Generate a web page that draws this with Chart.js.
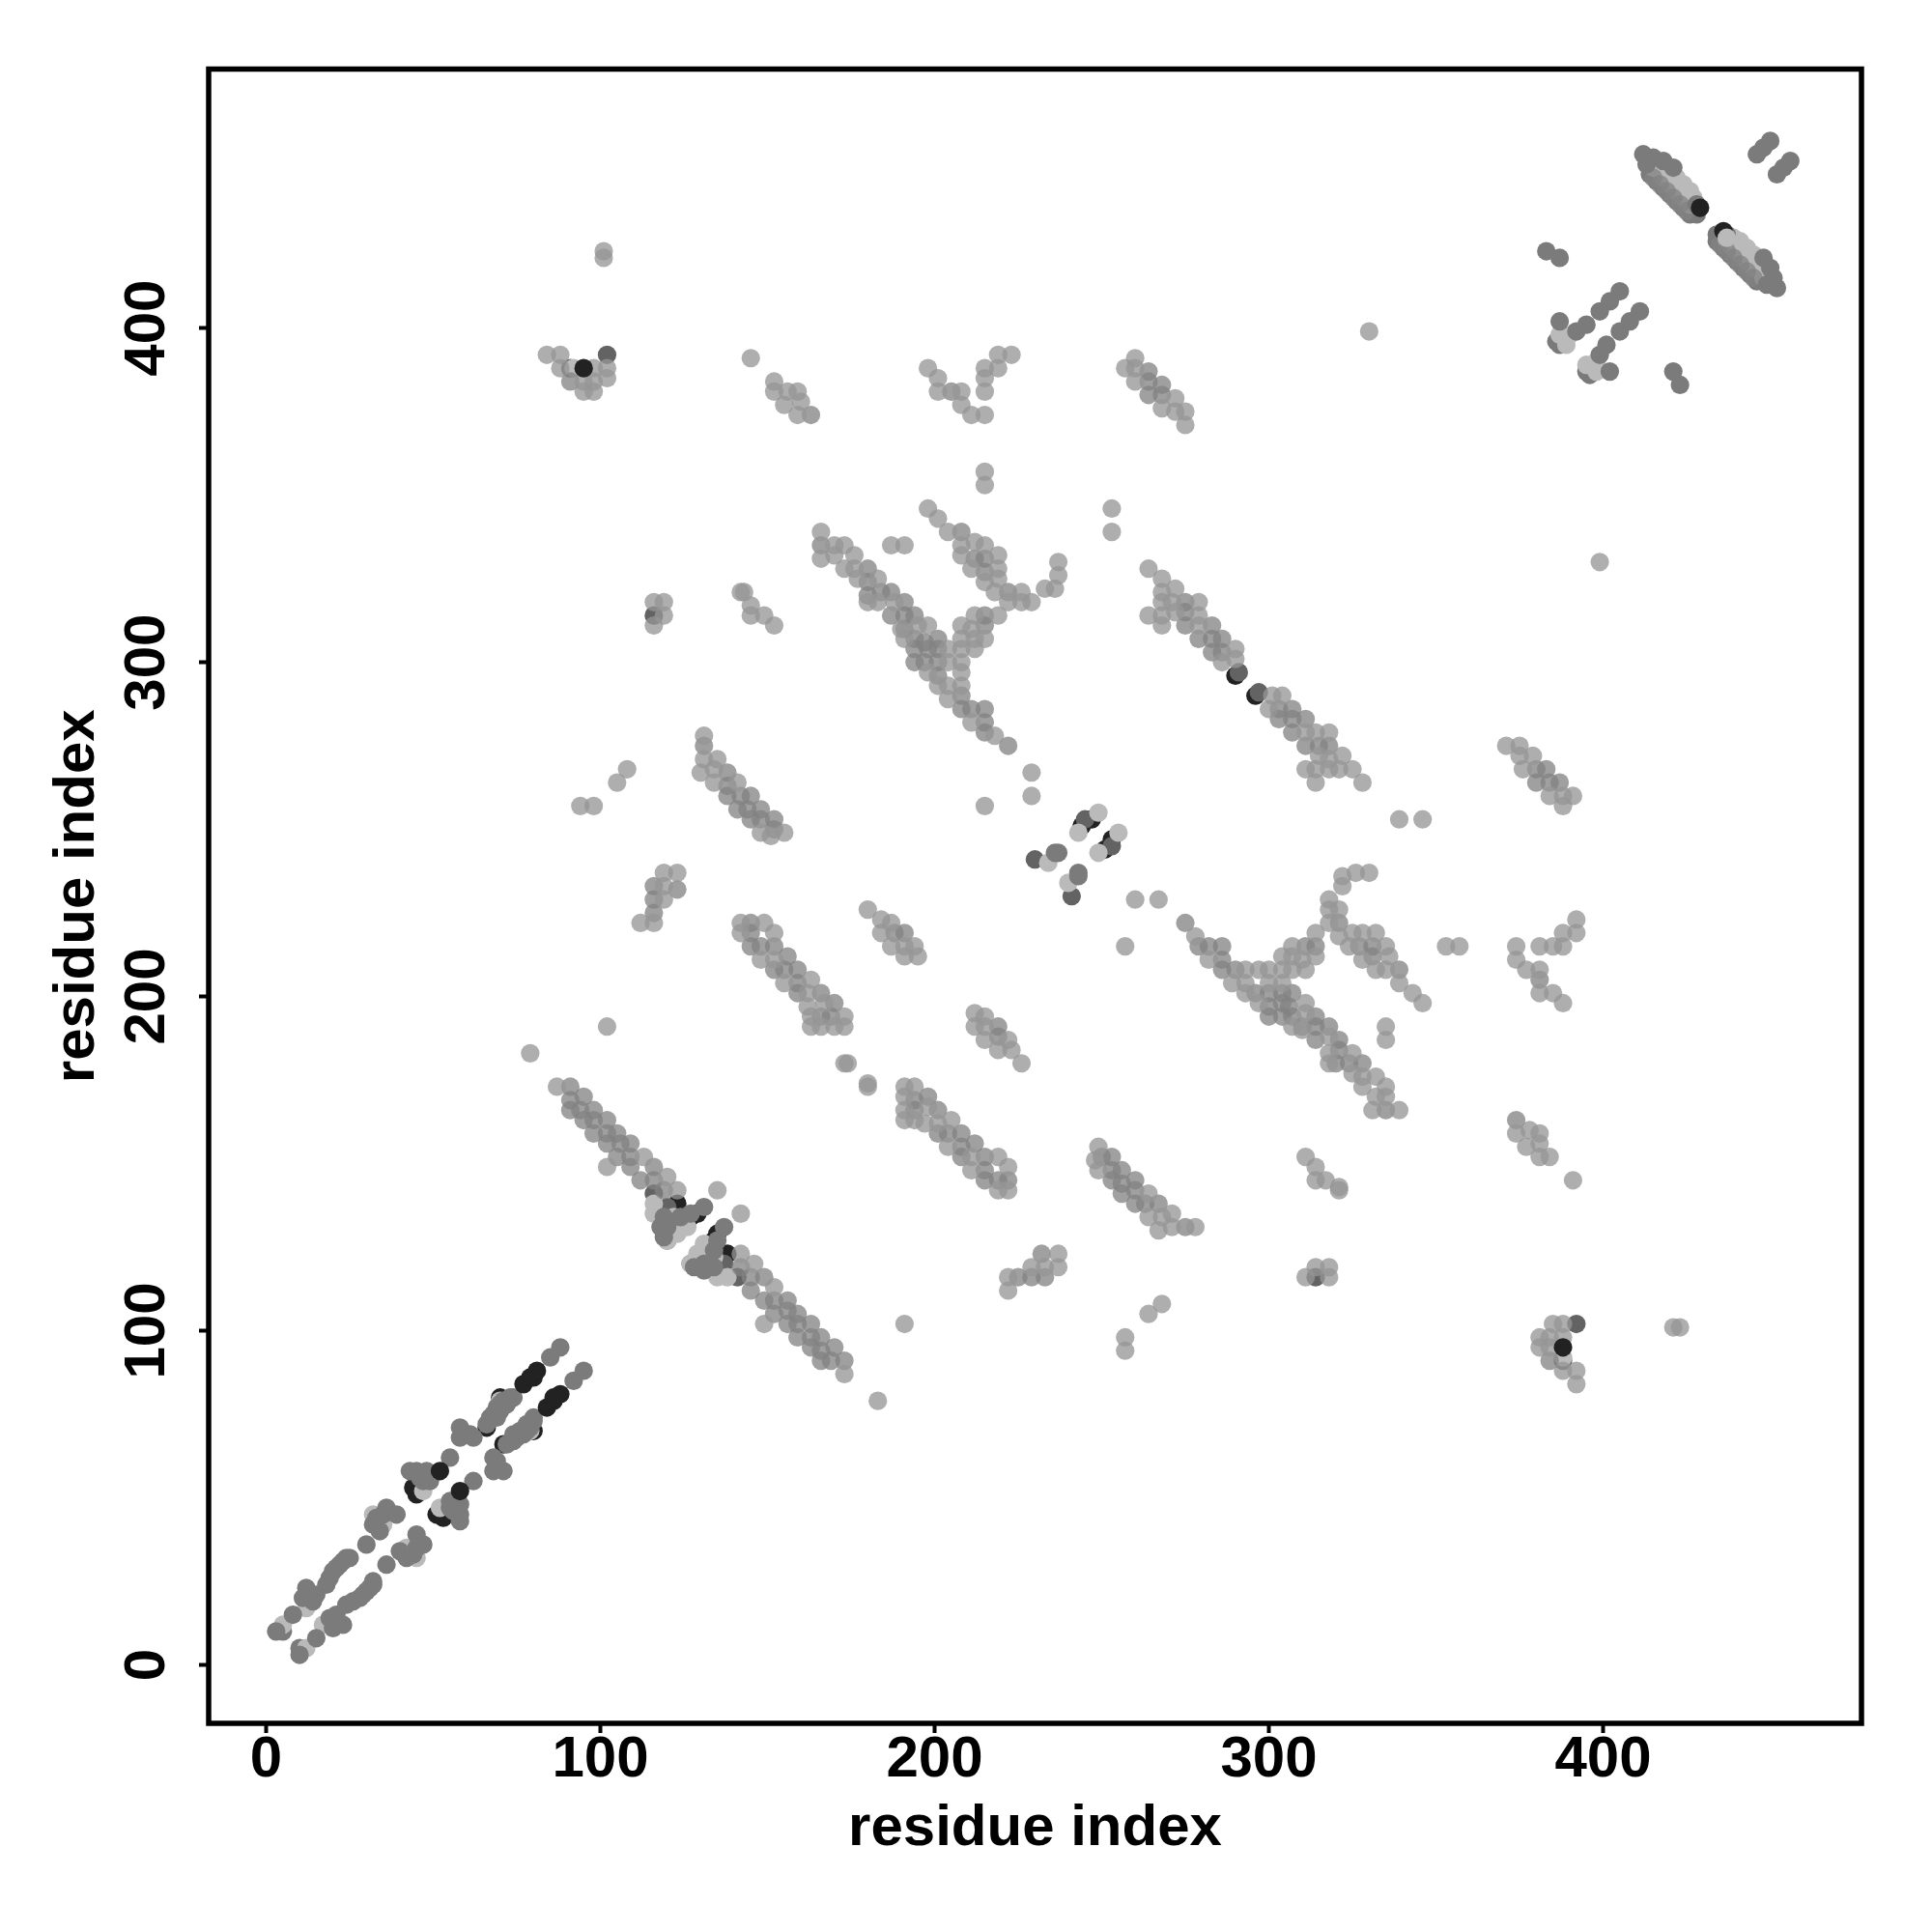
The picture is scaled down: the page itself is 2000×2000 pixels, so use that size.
<!DOCTYPE html>
<html>
<head>
<meta charset="utf-8">
<title>contact map</title>
<script src="https://cdn.jsdelivr.net/npm/chart.js@4"></script>
<style>
  html, body { margin: 0; padding: 0; background: #fff; }
  canvas { display: block; }
</style>
</head>
<body>
<canvas id="myChart" width="2000" height="2000"></canvas>
<script>
'use strict';

var tickValues = [0, 100, 200, 300, 400];
var axisLabel = 'residue index';

// contacts as [i, j] with i < j, the map is symmetric so each one is drawn at both (i,j) and (j,i)
var blackLow = [[45,52],[45,51],[44,53],[66,71],[70,80],[123,138],[127,134],[129,135],[123,131],[122,136],[121,136],[125,132],[290,296],[244,251],[247,253],[427,437]];
var dark = [[102,392],[91,388],[230,241],[245,253],[291,297],[116,314],[116,141],[118,135],[122,133],[120,137]];
var grayLow = [[5,10],[414,446],[416,444],[418,442],[420,440],[422,438],[424,436],[426,434],[415,447],[417,445],[419,443],[421,441],[423,439],[425,437],[427,435],[428,434],[428,436],[120,127],[386,396],[387,395]];
var pale = [[5,12],[12,17],[35,42],[32,45],[47,52],[34,43],[70,79],[417,449],[419,447],[421,445],[423,443],[425,441],[427,439],[420,447],[422,445],[424,443],[426,441],[416,448],[415,448],[418,445],[420,443],[422,441],[424,439],[426,437],[414,450],[116,135],[116,138],[120,127],[123,129],[126,131],[122,134],[243,249],[249,255],[234,240],[387,398],[389,395],[390,398],[92,388]];
var light = [[166,339],[166,331],[170,335],[173,335],[170,332],[173,328],[176,332],[176,328],[183,325],[177,325],[180,318],[183,318],[188,318],[190,310],[195,311],[198,311],[191,307],[198,297],[204,304],[204,300],[208,300],[208,297],[201,293],[204,293],[208,293],[204,289],[211,282],[218,278],[229,267],[229,260],[215,257],[187,335],[191,335],[198,346],[201,343],[204,339],[208,335],[208,332],[212,336],[215,335],[219,332],[211,328],[219,328],[215,324],[219,325],[218,321],[226,321],[222,318],[226,318],[229,318],[233,322],[236,322],[237,326],[237,330],[219,314],[212,314],[211,310],[208,311],[215,307],[212,307],[208,307],[212,304],[208,304],[253,346],[253,339],
  [264,328],[268,325],[272,322],[268,321],[268,318],[271,318],[279,318],[264,314],[268,311],[268,314],[272,315],[279,314],[279,311],[286,300],[290,301],[290,304],
  [198,388],[201,385],[201,381],[208,381],[208,377],[211,374],[215,374],[215,381],[215,385],[215,388],[219,388],[219,392],[223,392],[215,357],[215,353],[260,391],[257,388],[260,388],[260,384],[268,376],[272,379],[272,375],[275,375],[275,371],
  [101,423],[101,421],[84,392],[88,392],[88,388],[98,388],[102,388],[102,385],[95,381],[98,381],[95,384],[98,384],[145,391],[152,384],[152,381],[156,381],[159,381],[155,377],[160,378],[159,374],
  [112,222],[116,222],[119,229],[119,233],[119,237],[123,237],[142,222],[142,219],[149,222],[152,219],[148,211],[152,211],[155,204],[163,205],[162,201],[162,197],[167,198],[163,194],[163,191],[166,191],[170,191],[173,194],[173,191],[173,180],[174,180],[180,226],[184,223],[187,222],[184,219],[187,215],[191,215],[194,215],[191,212],[195,212],
  [116,318],[119,318],[119,314],[116,311],[142,321],[143,321],[145,317],[145,314],[149,314],[152,311],[108,268],[105,264],[94,257],[98,257],[131,278],[131,271],[135,271],[130,267],[134,264],[134,268],[141,264],[148,249],[151,248],[155,249],
  [330,399],[102,191],[79,183],[87,173],[102,149],[135,142],[120,146],[123,142],[113,152]];
var mid = [[91,173],[91,169],[91,166],[95,170],[94,166],[98,166],[98,163],[95,163],[102,163],[98,159],[102,159],[105,159],[102,156],[109,156],[106,156],[105,152],[109,152],[109,149],[116,149],[112,145],[116,145],[119,142],
  [166,335],[180,328],[180,324],[180,320],[184,321],[187,321],[191,318],[187,314],[191,314],[194,314],[191,310],[194,307],[197,306],[201,307],[194,304],[198,304],[201,304],[194,300],[197,300],[201,300],[201,296],[208,290],[208,286],[211,286],[215,286],[215,282],[215,279],[222,275],[208,339],[212,331],[215,331],[215,327],[222,321],[215,314],[215,311],[275,318],[275,311],
  [283,311],[283,307],[286,307],[283,303],[286,303],[279,307],[275,315],
  [205,381],[264,387],[264,384],[264,380],[268,383],[268,380],[91,384],[163,374],
  [116,225],[116,229],[116,233],[123,232],[145,222],[145,215],[152,215],[156,212],[152,208],[159,208],[155,208],[159,204],[159,201],[166,201],[170,198],[166,194],[169,194],[188,219],[191,219],[145,219],[148,215],
  [131,275],[138,267],[138,263],[138,260],[142,260],[145,260],[141,256],[144,256],[148,256],[145,253],[148,253],[152,253],[152,250],
  [415,445],[417,443],[419,441],[421,439],[423,437],[425,435]];
var gray = [[3,10],[8,15],[11,20],[12,23],[15,21],[18,24],[20,28],[22,30],[23,31],[25,32],[30,36],[32,42],[35,45],[36,47],[39,45],[33,44],[34,40],[45,58],[48,58],[49,55],[43,58],[55,62],[58,71],[58,68],[61,69],[62,68],[66,72],[69,77],[71,79],[73,80],[68,75],[85,92],[88,95],
  [13,21],[14,19],[19,26],[21,29],[24,32],[47,57],[46,56],[47,55],[67,74],[70,76],[72,78],[74,80],[69,74],[70,78],
  [412,452],[415,451],[418,450],[421,448],[413,449],[428,437],[446,452],[448,454],[450,456],[383,423],[387,421],[405,411],[402,408],[399,405],[395,401],[392,399],[387,402],
  [120,131],[124,134],[127,135],[131,137],[118,131],[119,134],[119,128],[237,243],[236,243]];
var blackTop = [[52,58],[77,84],[79,86],[80,86],[81,88],[429,436],[95,388]];
// the one place where the two sides differ, a pale disc lies on the lower copy of the black contact
var paleCoverX = [437];
var paleCoverY = [427];

// turns a list of contacts into points on both sides of the diagonal
function bothSides(contacts) {
    var points = [];
    for (var i = 0; i < contacts.length; i++) {
        points.push({ x: contacts[i][0], y: contacts[i][1] });
        points.push({ x: contacts[i][1], y: contacts[i][0] });
    }
    return points;
}

function markSet(points, colour) {
    return {
        data: points,
        backgroundColor: colour,
        pointBorderWidth: 0,
        pointRadius: 9.6,
        pointHoverRadius: 9.6,
        showLine: false
    };
}

function contactSet(contacts, colour) {
    return markSet(bothSides(contacts), colour);
}

function setTicks(scale) {
    scale.ticks = tickValues.map(function (v) { return { value: v }; });
}

var labelFont = { family: '"Liberation Sans"', size: 60, weight: 'bold' };

// frame round the plot, the axes only give the left and bottom ticks
var framePlugin = {
    id: 'frame',
    afterDraw: function (chart) {
        var area = chart.chartArea;
        var ctx = chart.ctx;
        ctx.save();
        ctx.strokeStyle = '#000';
        ctx.lineWidth = 5.5;
        ctx.strokeRect(area.left, area.top, area.right - area.left, area.bottom - area.top);
        ctx.restore();
    }
};

var ctx = document.getElementById('myChart').getContext('2d');
var chart = new Chart(ctx, {
    type: 'scatter',
    data: {
        // chart.js paints the first dataset last, so the top layer goes first
        datasets: [
            markSet([{ x: paleCoverX[0], y: paleCoverY[0] }], '#bababa'),
            contactSet(blackTop, '#222222'),
            contactSet(gray, '#7b7b7b'),
            contactSet(light, 'rgba(150,150,150,0.77)'),
            contactSet(mid, 'rgba(130,130,130,0.76)'),
            contactSet(pale, '#bababa'),
            contactSet(grayLow, '#7a7a7a'),
            contactSet(dark, '#636363'),
            contactSet(blackLow, '#222222')
        ]
    },
    plugins: [framePlugin],
    options: {
        responsive: false,
        animation: false,
        layout: { padding: { top: 71.5, right: 73, left: 0, bottom: 0 } },
        plugins: { legend: { display: false }, tooltip: { enabled: false }, title: { display: false } },
        scales: {
            x: {
                type: 'linear',
                min: -17.2,
                max: 477.3,
                afterBuildTicks: setTicks,
                afterFit: function (scale) { scale.height = 216; },
                border: { display: false },
                grid: { drawOnChartArea: false, drawTicks: true, tickLength: 10, tickWidth: 4, color: '#000' },
                ticks: { color: '#000', font: labelFont, padding: -8, maxRotation: 0, minRotation: 0, autoSkip: false },
                title: { display: true, text: axisLabel, color: '#000', font: labelFont, padding: { top: 0, bottom: 71 } }
            },
            y: {
                type: 'linear',
                min: -17.5,
                max: 477.5,
                afterBuildTicks: setTicks,
                afterFit: function (scale) { scale.width = 216; },
                border: { display: false },
                grid: { drawOnChartArea: false, drawTicks: true, tickLength: 10, tickWidth: 4, color: '#000' },
                ticks: { color: '#000', font: labelFont, padding: 2.5, minRotation: 90, maxRotation: 90, crossAlign: 'center', autoSkip: false },
                title: { display: true, text: axisLabel, color: '#000', font: labelFont, padding: { top: 44, bottom: 0 } }
            }
        }
    }
});
</script>
</body>
</html>
